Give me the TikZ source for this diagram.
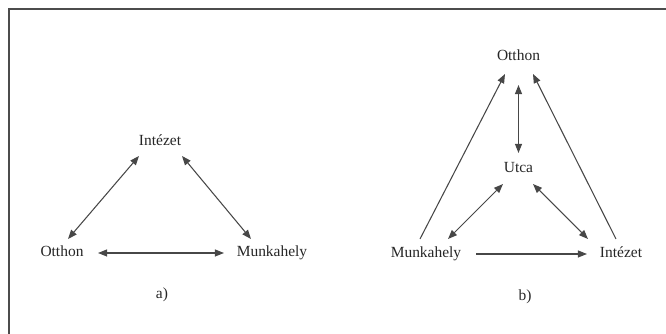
\documentclass[tikz,border=0pt]{standalone}
\usepackage{fontspec}
\setmainfont{Liberation Serif}
\usetikzlibrary{arrows.meta}

\begin{document}
\begin{tikzpicture}[
        x=0.025cm, y=0.025cm,
        place/.style={inner sep=1pt, text height=8pt, text depth=2.5pt, font=\fontsize{11}{13}\selectfont, text=black!85},
        arr/.style={-{Triangle[length=6.5pt, width=5pt]}, line width=0.75pt, black!72},
        dbl/.style={{Triangle[length=6.5pt, width=5pt]}-{Triangle[length=6.5pt, width=5pt]}, line width=0.75pt, black!72},
    ]
        \useasboundingbox (0,0) rectangle (666,334);
        % frame
        \draw[line width=1pt, black!70] (9,0) -- (9,325) -- (666,325);

        % a)
        \node[place] (inta) at (160,192) {Intézet};
        \node[place] (otta) at (62,81) {Otthon};
        \node[place] (muna) at (272,81) {Munkahely};
        \node[place] (laba) at (162,39) {a)};

        \draw[dbl] ([shift={(-21,-14)}]inta.center) -- ([shift={(6,14)}]otta.center);
        \draw[dbl] ([shift={(22,-14)}]inta.center) -- ([shift={(-21,14)}]muna.center);
        \draw[dbl] ([shift={(36,0)}]otta.center) -- ([shift={(-48,0)}]muna.center);

        % b)
        \node[place] (ottb) at (518.5,277) {Otthon};
        \node[place] (utca) at (518.5,165) {Utca};
        \node[place] (munb) at (426,80) {Munkahely};
        \node[place] (intb) at (621,80) {Intézet};
        \node[place] (labb) at (525,37) {b)};

        \draw[arr] ([shift={(-6,15)}]munb.center) -- ([shift={(-13.5,-17)}]ottb.center);
        \draw[arr] ([shift={(-5,15)}]intb.center) -- ([shift={(14.5,-17)}]ottb.center);
        \draw[dbl] ([shift={(0,-28)}]ottb.center) -- ([shift={(0,16)}]utca.center);
        \draw[dbl] ([shift={(-15.5,-15)}]utca.center) -- ([shift={(22,15)}]munb.center);
        \draw[dbl] ([shift={(14.5,-15)}]utca.center) -- ([shift={(-33,15)}]intb.center);
        \draw[arr] ([shift={(50,0)}]munb.center) -- ([shift={(-34,0)}]intb.center);
\end{tikzpicture}
\end{document}
